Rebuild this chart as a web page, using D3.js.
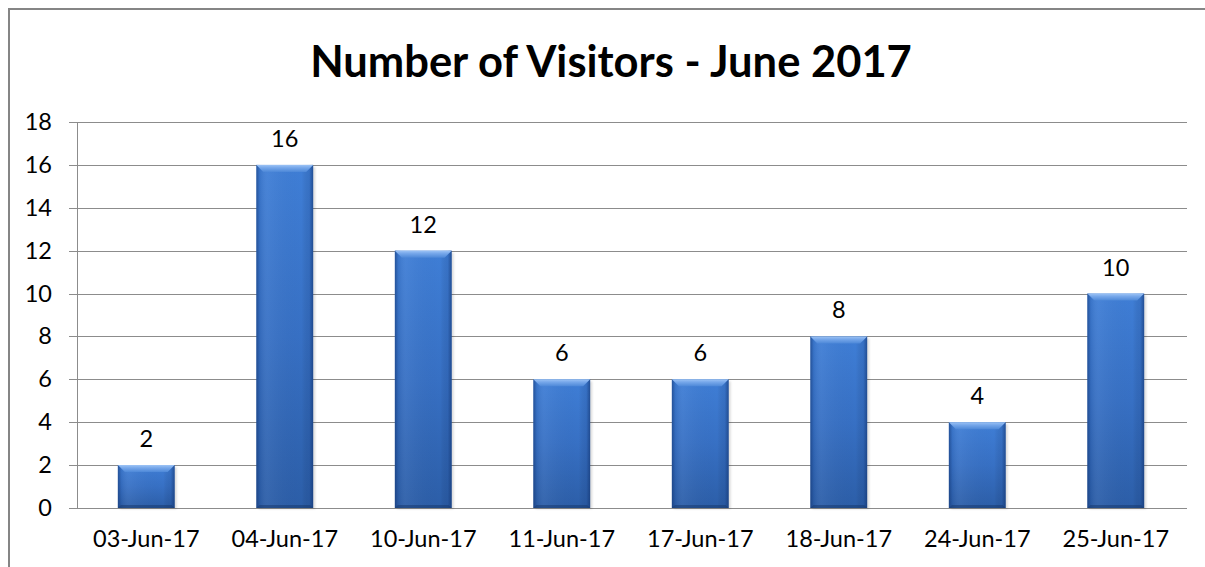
<!DOCTYPE html>
<html>
<head>
<meta charset="utf-8">
<script src="https://cdn.jsdelivr.net/npm/d3@7"></script>
<style>
  html, body { margin: 0; padding: 0; background: #fff; overflow: hidden; }
  svg { display: block; }
  text { font-family: Lato, "Open Sans", sans-serif; fill: #000; }
</style>
</head>
<body>
<svg id="chart" width="1205" height="567"></svg>
<script>
// Visitor counts per date
const categories = ["03-Jun-17", "04-Jun-17", "10-Jun-17", "11-Jun-17", "17-Jun-17", "18-Jun-17", "24-Jun-17", "25-Jun-17"];
const visitors = [2, 16, 12, 6, 6, 8, 4, 10];
const yTicks = [0, 2, 4, 6, 8, 10, 12, 14, 16, 18];
const chartTitle = "Number of Visitors - June 2017";

const svg = d3.select("#chart");
const W = 1205, H = 567;
const plot = { left: 77, right: 1185, top: 122, bottom: 508 };
const labelSize = 23.5;

// outer frame (its right and bottom edges run past the page)
svg.append("rect")
  .attr("x", 9).attr("y", 9)
  .attr("width", W + 200).attr("height", H + 200)
  .attr("fill", "#fff").attr("stroke", "#858585").attr("stroke-width", 2);

const defs = svg.append("defs");
const body = defs.append("linearGradient").attr("id", "barBody").attr("x1", 0).attr("x2", 0).attr("y1", 0).attr("y2", 1);
[[0, "#3f7ed6"], [0.5, "#3770c4"], [1, "#2c5ea8"]]
  .forEach(([o, c]) => body.append("stop").attr("offset", o).attr("stop-color", c));
const sides = defs.append("linearGradient").attr("id", "barSides").attr("x1", 0).attr("x2", 1).attr("y1", 0).attr("y2", 0);
[[0, "#10306a", 0.55], [0.06, "#10306a", 0.12], [0.2, "#ffffff", 0.05], [0.8, "#000", 0], [0.93, "#10306a", 0.15], [1, "#10306a", 0.6]]
  .forEach(([o, c, a]) => sides.append("stop").attr("offset", o).attr("stop-color", c).attr("stop-opacity", a));
const bevel = defs.append("linearGradient").attr("id", "barBevel").attr("x1", 0).attr("x2", 0).attr("y1", 0).attr("y2", 1);
[[0, "#9cc3f5"], [0.4, "#76a7ea"], [1, "#4d88d8"]]
  .forEach(([o, c]) => bevel.append("stop").attr("offset", o).attr("stop-color", c));
const blur = defs.append("filter").attr("id", "soft").attr("x", "-20%").attr("y", "-20%").attr("width", "140%").attr("height", "140%");
blur.append("feGaussianBlur").attr("stdDeviation", 1.2);

const x = d3.scaleBand().domain(categories).range([plot.left, plot.right]).paddingInner(0.59).paddingOuter(0.295);
const y = d3.scaleLinear().domain([0, 18]).range([plot.bottom, plot.top]);

// title
svg.append("text")
  .attr("x", 611).attr("y", 77)
  .attr("text-anchor", "middle")
  .attr("font-size", 43.5).attr("font-weight", 700)
  .text(chartTitle);

// gridlines with left tick stubs
const gridLen = plot.right + 2 - plot.left + 8;
const yAxis = d3.axisLeft(y).tickValues(yTicks).tickSize(gridLen).tickPadding(17);
const gy = svg.append("g")
  .attr("transform", `translate(${plot.right + 2},0)`)
  .call(yAxis);
gy.select(".domain").remove();
gy.selectAll(".tick line").attr("stroke", "#8c8c8c").attr("stroke-width", 1)
  .attr("shape-rendering", "crispEdges");
gy.selectAll(".tick text")
  .attr("x", -gridLen - 17)
  .attr("font-size", labelSize).attr("font-family", "Lato, sans-serif").attr("fill", "#000");

// vertical axis line
svg.append("line")
  .attr("x1", plot.left).attr("x2", plot.left)
  .attr("y1", plot.top).attr("y2", plot.bottom)
  .attr("stroke", "#8c8c8c").attr("shape-rendering", "crispEdges");

// category labels
const xAxis = d3.axisBottom(x).tickSize(0).tickPadding(22);
const gx = svg.append("g").attr("transform", `translate(0,${plot.bottom})`).call(xAxis);
gx.select(".domain").remove();
gx.selectAll(".tick text").attr("font-size", labelSize).attr("font-family", "Lato, sans-serif").attr("fill", "#000");

// bars
const bars = svg.append("g").selectAll("g.bar").data(categories.map((c, i) => ({ c, v: visitors[i] })))
  .join("g").attr("class", "bar");

bars.append("rect")
  .attr("x", d => x(d.c) + 2).attr("y", d => y(d.v) + 2)
  .attr("width", x.bandwidth()).attr("height", d => y(0) - y(d.v) - 1)
  .attr("fill", "#000").attr("opacity", 0.14).attr("filter", "url(#soft)");
bars.append("rect")
  .attr("x", d => x(d.c)).attr("y", d => y(d.v))
  .attr("width", x.bandwidth()).attr("height", d => y(0) - y(d.v))
  .attr("fill", "url(#barBody)");
bars.append("rect")
  .attr("x", d => x(d.c)).attr("y", d => y(d.v))
  .attr("width", x.bandwidth()).attr("height", d => y(0) - y(d.v))
  .attr("fill", "url(#barSides)");
// top bevel
bars.append("path")
  .attr("d", d => {
    const x0 = x(d.c), x1 = x0 + x.bandwidth(), t = y(d.v), b = 7;
    return `M${x0},${t}L${x1},${t}L${x1 - b},${t + b}L${x0 + b},${t + b}Z`;
  })
  .attr("fill", "url(#barBevel)");
// bottom edge
bars.append("path")
  .attr("d", d => {
    const x0 = x(d.c), x1 = x0 + x.bandwidth(), bt = y(0), b = 3;
    return `M${x0},${bt}L${x0 + b},${bt - b}L${x1 - b},${bt - b}L${x1},${bt}Z`;
  })
  .attr("fill", "#173a70").attr("opacity", 0.55);

// value labels
bars.append("text")
  .attr("x", d => x(d.c) + x.bandwidth() / 2)
  .attr("y", d => y(d.v) - 18)
  .attr("text-anchor", "middle")
  .attr("font-size", labelSize)
  .text(d => d.v);
</script>
</body>
</html>
